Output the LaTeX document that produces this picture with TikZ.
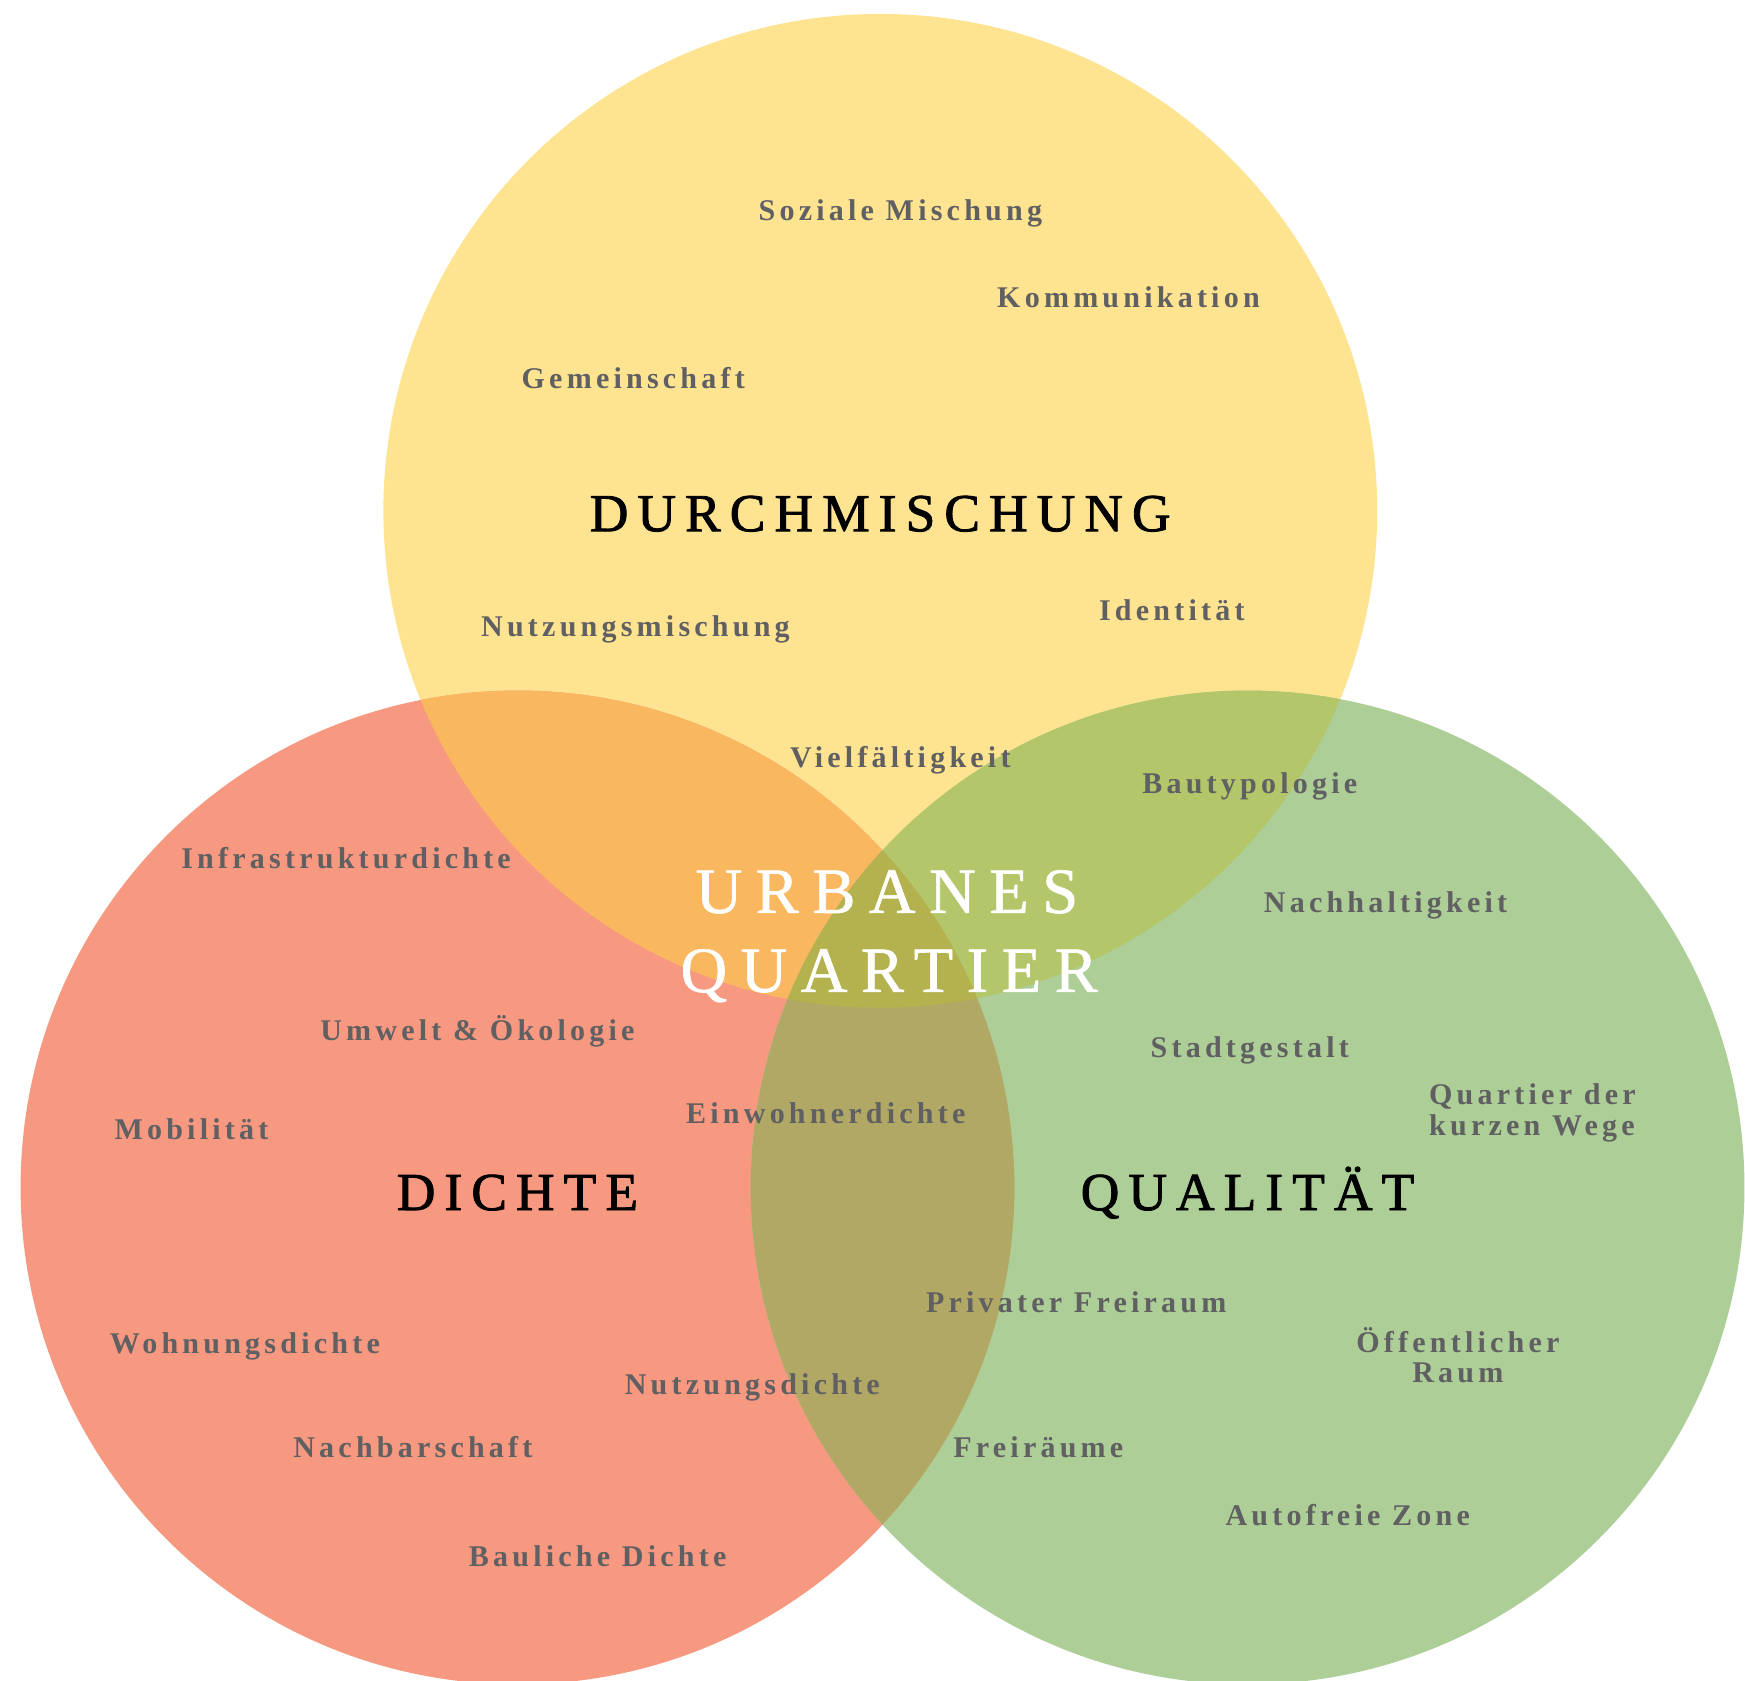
\documentclass[tikz,border=0pt]{standalone}
\usepackage{fontspec}
\setmainfont{Liberation Serif}
\newfontfamily\begriffschrift[LetterSpace=14]{Liberation Serif}
\newfontfamily\titelschrift[LetterSpace=17, FakeBold=1.6]{Liberation Serif}
\newfontfamily\mitteschrift[LetterSpace=21, FakeBold=1]{Liberation Serif}
\usepackage{tikz}
\usetikzlibrary{positioning}

\definecolor{gelb}{RGB}{254,228,145}
\definecolor{rot}{RGB}{247,152,128}
\definecolor{gruen}{RGB}{173,206,151}
\definecolor{gelbrot}{RGB}{249,183,96}
\definecolor{gelbgruen}{RGB}{179,199,106}
\definecolor{rotgruen}{RGB}{178,168,101}
\definecolor{alle}{RGB}{180,178,78}
\definecolor{grautext}{RGB}{96,96,98}

\tikzstyle{kreis} = [circle, minimum size=893pt, inner sep=0pt]
\tikzstyle{begriff} = [font=\begriffschrift\bfseries\fontsize{27}{27}\selectfont, text=grautext, inner sep=0pt, anchor=mid]
\tikzstyle{titel} = [font=\titelschrift\fontsize{48}{48}\selectfont, text=black, inner sep=0pt, anchor=mid]
\tikzstyle{mitte} = [font=\mitteschrift\fontsize{58}{58}\selectfont, text=white, inner sep=0pt, anchor=mid]

\begin{document}
\begin{tikzpicture}[x=1pt, y=-1pt]
		\useasboundingbox (0,0) rectangle (1568,1510);
		\fill[white] (0,0) rectangle (1568,1510);

		% die drei Kreise
		\node [kreis, fill=gelb] (durch) at (791,459) {};
		\node [kreis, fill=rot] (dichte) at (465,1067) {};
		\node [kreis, fill=gruen] (qual) at (1121,1067) {};

		% Schnittflaechen
		\begin{scope}
			\clip (durch) circle[radius=446.5];
			\fill[gelbrot] (dichte) circle[radius=446.5];
		\end{scope}
		\begin{scope}
			\clip (durch) circle[radius=446.5];
			\fill[gelbgruen] (qual) circle[radius=446.5];
		\end{scope}
		\begin{scope}
			\clip (dichte) circle[radius=446.5];
			\fill[rotgruen] (qual) circle[radius=446.5];
		\end{scope}
		\begin{scope}
			\clip (durch) circle[radius=446.5];
			\clip (dichte) circle[radius=446.5];
			\fill[alle] (qual) circle[radius=446.5];
		\end{scope}

		% Ueberschriften
		\node [titel] (t-durch) at ([yshift=-16]durch) {DURCHMISCHUNG};
		\node [titel] (t-dichte) at ([yshift=-18]dichte) {DICHTE};
		\node [titel] (t-qual) at ([yshift=-18]qual) {QUALITÄT};
		\node [mitte] (urbanes) at (797,818) {URBANES};
		\node [mitte] (quartier) at (799,889) {QUARTIER};

		% Durchmischung
		\node [begriff] (sozial) at (809,196) {Soziale Mischung};
		\node [begriff] (komm) at (1014,274) {Kommunikation};
		\node [begriff] (gemein) at (569,347) {Gemeinschaft};
		\node [begriff] (nutzmisch) at (571,570) {Nutzungsmischung};
		\node [begriff] (ident) at (1053,555) {Identität};
		\node [begriff] (vielf) at (809,687) {Vielfältigkeit};
		\node [begriff] (bautyp) at (1123,711) {Bautypologie};

		% Dichte
		\node [begriff] (infra) at (311,778) {Infrastrukturdichte};
		\node [begriff] (umwelt) at (429,933) {Umwelt \& Ökologie};
		\node [begriff] (mobil) at (172,1022) {Mobilität};
		\node [begriff] (einw) at (742,1007) {Einwohnerdichte};
		\node [begriff] (wohn) at (220,1214) {Wohnungsdichte};
		\node [begriff] (nutzd) at (676,1251) {Nutzungsdichte};
		\node [begriff] (nachbar) at (371,1307) {Nachbarschaft};
		\node [begriff] (baulich) at (537,1405) {Bauliche Dichte};

		% Qualitaet
		\node [begriff] (nachh) at (1245,818) {Nachhaltigkeit};
		\node [begriff] (stadtg) at (1123,948) {Stadtgestalt};
		\node [begriff, anchor=west, align=left] (kurz) at (1284,1000) {Quartier der\\kurzen Wege};
		\node [begriff] (privat) at (967,1177) {Privater Freiraum};
		\node [begriff, anchor=center, align=center] (oeff) at (1310,1218) {Öffentlicher\\Raum};
		\node [begriff] (frei) at (933,1307) {Freiräume};
		\node [begriff] (auto) at (1211,1368) {Autofreie Zone};
	\end{tikzpicture}
\end{document}
